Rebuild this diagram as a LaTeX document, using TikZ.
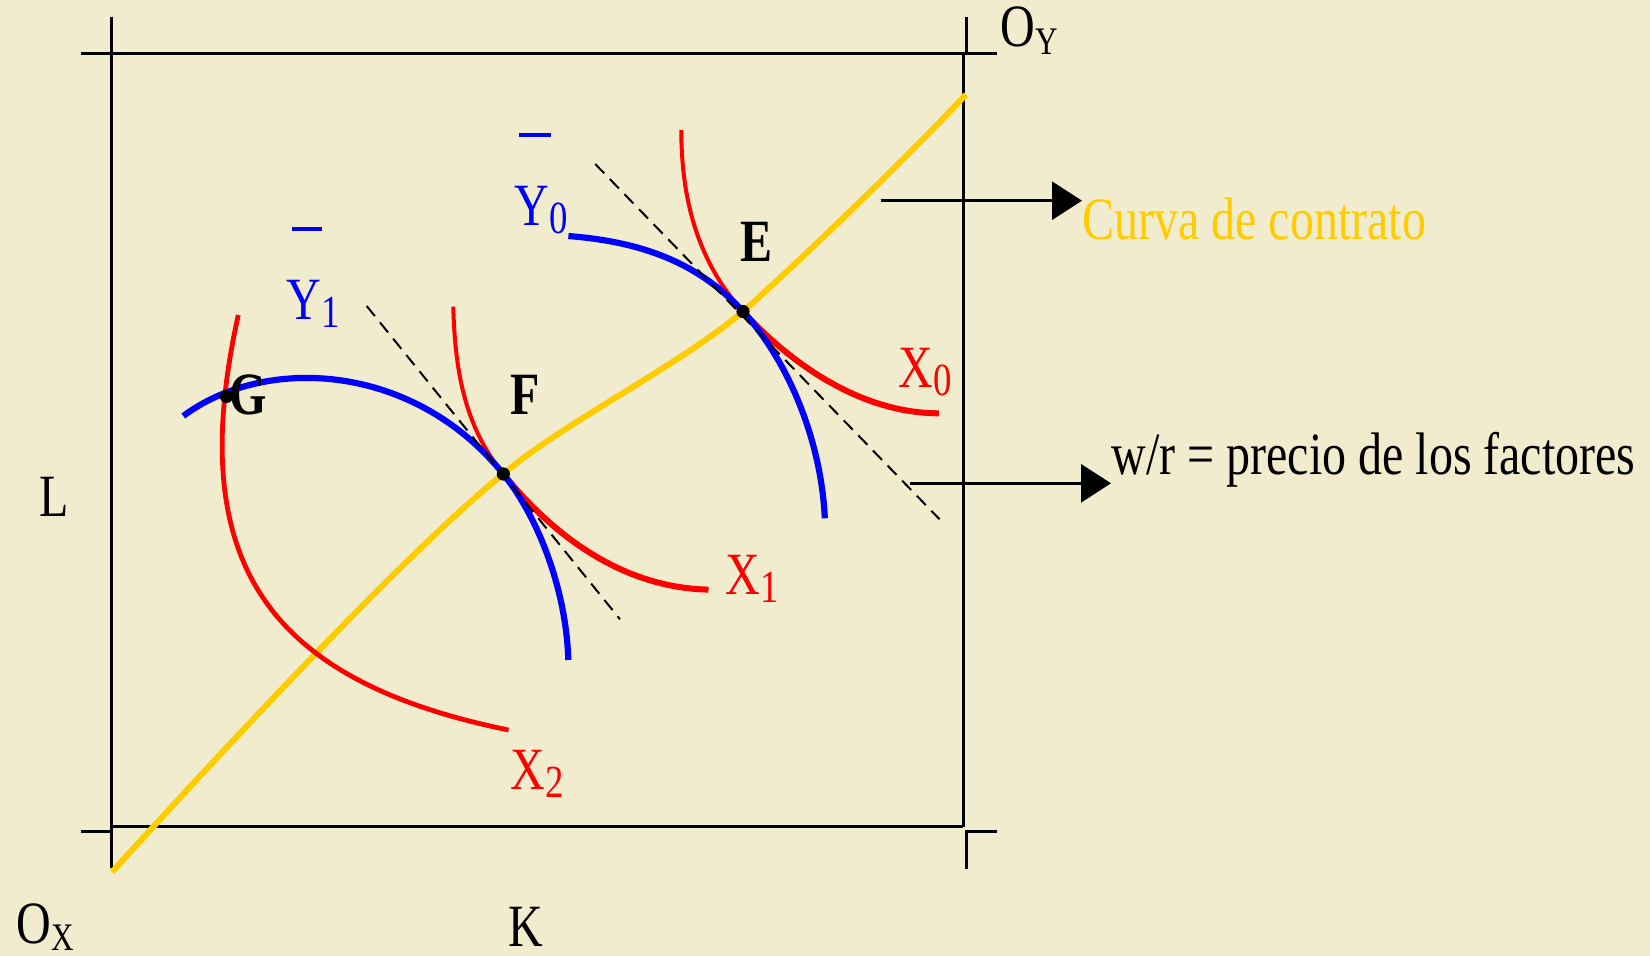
\documentclass[tikz,border=0pt]{standalone}
\usepackage{fontspec}
\setmainfont[FakeStretch=0.8]{Liberation Serif}
\usetikzlibrary{arrows.meta}
\definecolor{bg}{HTML}{F2ECCE}
\definecolor{cyel}{HTML}{FFCC00}
\definecolor{cred}{HTML}{FF0000}
\definecolor{cblue}{HTML}{0000FF}
\newcommand{\subs}[1]{\raisebox{-4pt}{\fontsize{23pt}{23pt}\selectfont #1}}
\newcommand{\subl}[1]{\raisebox{-3.7pt}{\fontsize{19.5pt}{20pt}\selectfont #1}}
\begin{document}
\begin{tikzpicture}[x=0.5pt,y=-0.5pt,
  axis/.style={line width=1.5pt, black},
  yelcurve/.style={line width=3pt, cyel},
  redcurve/.style={line width=2.4pt, cred},
  redthin/.style={line width=2pt, cred},
  redthick/.style={line width=3pt, cred},
  bluecurve/.style={line width=3.1pt, cblue},
  tangent/.style={line width=1pt, black, dash pattern=on 6.5pt off 4pt},
  pointer/.style={line width=1.5pt, black, -{Triangle[length=15pt,width=19pt]}},
  lbl/.style={anchor=base west, inner sep=0pt, font=\fontsize{30pt}{30pt}\selectfont},
  dotpt/.style={fill=black}]
\path[fill=bg] (0,0) rectangle (1650,956);
% axes / box
\draw[axis] (81,53.3) -- (996.7,53.3);
\draw[axis] (111.7,16.7) -- (111.7,868);
\draw[axis] (966.7,17) -- (966.7,53.3);
\draw[axis] (963.3,53.3) -- (963.3,826.7);
\draw[axis] (111.7,826.7) -- (963.3,826.7);
\draw[axis] (81,831.7) -- (111.7,831.7);
\draw[axis] (996.7,831.7) -- (966.7,831.7) -- (966.7,869);
% key points
\coordinate (E) at (743,311.5);
\coordinate (F) at (503.3,474);
\coordinate (G) at (226.5,396.5);
% contract curve
\draw[yelcurve] (112,872) .. controls (250,720) and (420,540) .. (F)
  .. controls (560,425) and (680,365) .. (E)
  .. controls (790,270) and (900,165) .. (966,94.5);
% red isoquants
\draw[redthin] (681.3,130) .. controls (681.3,200) and (698,262) .. (E);
\draw[redthick] (E) .. controls (788,361) and (858.8,413.3) .. (938.8,413.3);
\draw[redthin] (453.3,306.7) .. controls (455,380) and (468.3,430.6) .. (F);
\draw[redthick] (F) .. controls (560,544) and (630,588) .. (708.5,589.6);
\draw[redcurve] (238.3,315) .. controls (184.3,559) and (263.6,680) .. (508.6,730);
% blue isoquants
\draw[bluecurve] (568.4,236) .. controls (630,241) and (693,256.5) .. (E)
  .. controls (793,366.5) and (821.8,448.3) .. (824.8,518.3);
\draw[bluecurve] (183.3,416) .. controls (265,355) and (413.3,362.4) .. (F)
  .. controls (538.3,517.4) and (566.3,590) .. (568.3,660);
% tangent lines
\draw[tangent] (595.2,164) -- (939.6,519.3);
\draw[tangent] (366.7,306) -- (620,619.3);
% points
\fill[dotpt] (E) circle[radius=3.3pt];
\fill[dotpt] (F) circle[radius=3.3pt];
\fill[dotpt] (G) circle[radius=3.3pt];
% bars over Y
\draw[cblue, line width=2pt] (519.4,134.7) -- (551.2,134.7);
\draw[cblue, line width=2pt] (291.7,229.3) -- (321.7,229.3);
% labels
\node[lbl] (lE) at (740,261.7) {\textbf{E}};
\node[lbl] (lF) at (510,415) {\textbf{F}};
\node[lbl] (lG) at (229,415) {\textbf{G}};
\node[lbl, text=cblue] (lY0) at (514,226) {Y\subs{0}};
\node[lbl, text=cblue] (lY1) at (286,320) {Y\subs{1}};
\node[lbl, text=cred] (lX0) at (898.5,387.3) {X\subs{0}};
\node[lbl, text=cred] (lX1) at (725,594.5) {X\subs{1}};
\node[lbl, text=cred] (lX2) at (510,789.6) {X\subs{2}};
\node[lbl] (lOY) at (1000,47) {O\subl{Y}};
\node[lbl] (lOX) at (16,943) {O\subl{X}};
\node[lbl] (lK) at (508,946) {K};
\node[lbl] (lL) at (39,516.7) {L};
\node[lbl, text=cyel] (curva) at (1082,239.3) {Curva de contrato};
\node[lbl] (precio) at (1111,475) {w/r = precio de los factores};
% pointers
\coordinate (c1) at (880.7,200.7);
\coordinate (c2) at (910,483.3);
\draw[pointer] (c1) -- (c1 -| curva.west);
\draw[pointer] (c2) -- (c2 -| precio.west);
\end{tikzpicture}
\end{document}
